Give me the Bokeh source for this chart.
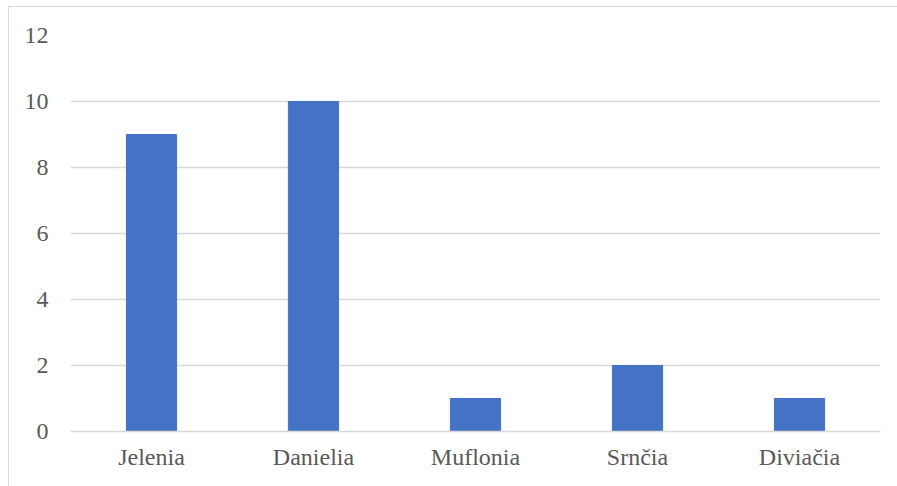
from bokeh.plotting import figure
from bokeh.models import FactorRange, Range1d, FixedTicker
from bokeh.embed import file_html
from bokeh.resources import INLINE

categories = ["Jelenia", "Danielia", "Muflonia", "Srnčia", "Diviačia"]
values = [9, 10, 1, 2, 1]
y_ticks = [0, 2, 4, 6, 8, 10, 12]

FONT = "Liberation Serif"
TEXT = "#595959"
GRID = "#d9d9d9"

p = figure(
    x_range=FactorRange(*categories, range_padding=0),
    y_range=Range1d(0, 12),
    width=889, height=480,
    margin=(6, 0, 0, 8),
    min_border_left=61, min_border_right=18,
    min_border_top=28, min_border_bottom=56,
    output_backend="svg", toolbar_location=None,
)
p.styles = {"border-top": f"1px solid {GRID}", "border-left": f"1px solid {GRID}"}

p.vbar(x=categories, top=values, width=0.31, color="#4472C4")

p.outline_line_color = None
p.xgrid.grid_line_color = None
p.ygrid.grid_line_color = GRID
p.ygrid.grid_line_width = 1.3

p.yaxis.ticker = FixedTicker(ticks=y_ticks)
p.yaxis.axis_line_color = None
p.yaxis.major_tick_line_color = None
p.yaxis.minor_tick_line_color = None
p.yaxis.major_tick_out = 0
p.yaxis.major_label_standoff = 22

p.xaxis.axis_line_color = GRID
p.xaxis.axis_line_width = 1.5
p.xaxis.major_tick_line_color = None
p.xaxis.major_tick_out = 0
p.xaxis.major_label_standoff = 12

for ax in (p.xaxis, p.yaxis):
    ax.major_label_text_font = FONT
    ax.major_label_text_font_size = "24px"
    ax.major_label_text_color = TEXT

open("out.html", "w").write(file_html(p, INLINE))
